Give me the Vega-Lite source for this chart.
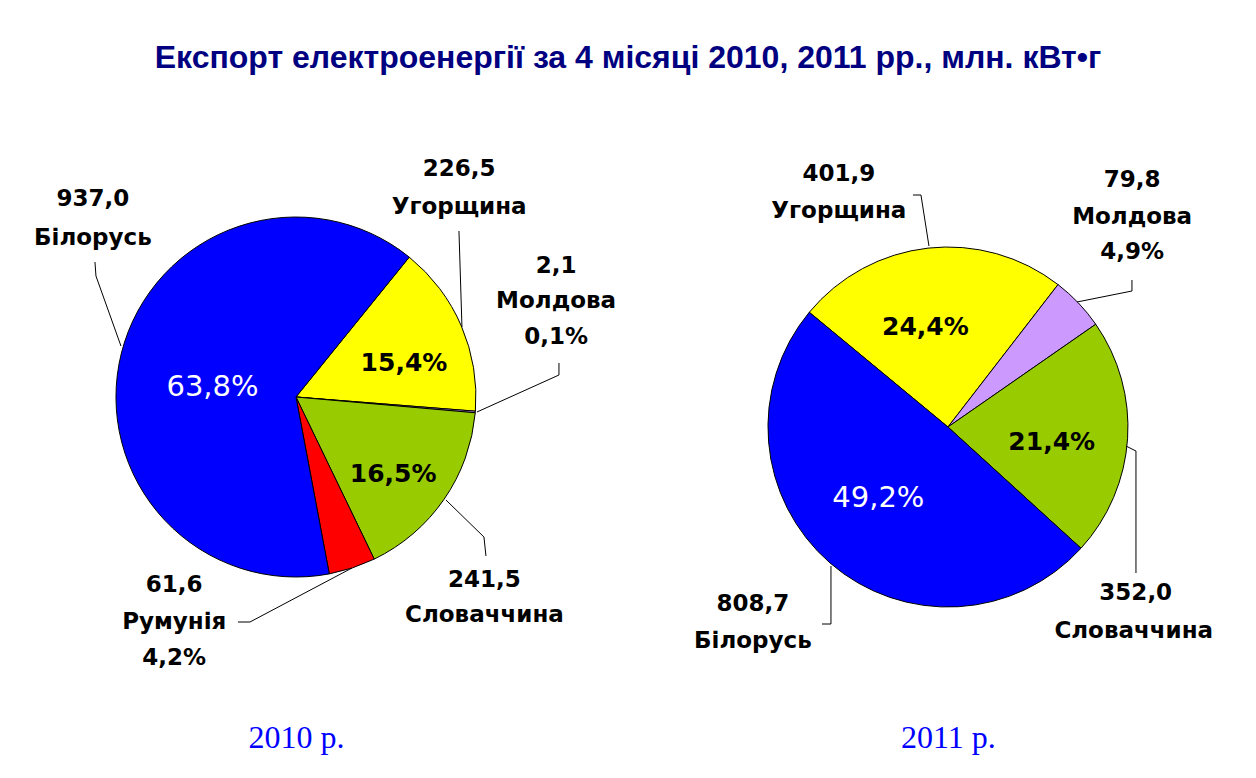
{
  "$schema": "https://vega.github.io/schema/vega-lite/v6.json",
  "width": 1256,
  "height": 778,
  "autosize": {"type": "fit", "contains": "padding"},
  "padding": {"top": 44, "bottom": 25, "left": 0, "right": 0},
  "background": "white",
  "title": {"text": "Експорт електроенергії за 4 місяці 2010, 2011 рр., млн. кВт•г", "font": "Liberation Sans", "fontSize": 32, "fontWeight": "bold", "color": "#000080", "anchor": "middle", "offset": 9},
  "data": {"values": [
    {"year": 2010, "country": "Угорщина", "value": 226.5, "pct": 0.154, "ord": 1},
    {"year": 2010, "country": "Молдова", "value": 2.1, "pct": 0.001, "ord": 2},
    {"year": 2010, "country": "Словаччина", "value": 241.5, "pct": 0.165, "ord": 3},
    {"year": 2010, "country": "Румунія", "value": 61.6, "pct": 0.042, "ord": 4},
    {"year": 2010, "country": "Білорусь", "value": 937.0, "pct": 0.638, "ord": 5},
    {"year": 2011, "country": "Угорщина", "value": 401.9, "pct": 0.244, "ord": 1},
    {"year": 2011, "country": "Молдова", "value": 79.8, "pct": 0.049, "ord": 2},
    {"year": 2011, "country": "Словаччина", "value": 352.0, "pct": 0.214, "ord": 3},
    {"year": 2011, "country": "Білорусь", "value": 808.7, "pct": 0.492, "ord": 4}
  ]},
  "encoding": {
    "x": {"field": "year", "type": "ordinal", "scale": {"type": "point", "padding": 0.4632, "align": 0.49},
          "axis": {"title": null, "domain": false, "ticks": false, "grid": false, "labelAngle": 0, "labelExpr": "datum.label + ' р.'", "labelFont": "Liberation Serif", "labelFontSize": 32, "labelColor": "#0000FF", "labelPadding": 6}},
    "y": {"field": "year", "type": "ordinal", "axis": null,
          "scale": {"type": "point", "domain": [2000, 2001, 2002, 2003, 2004, 2005, 2006, 2007, 2008, 2009, 2010, 2011, 2012, 2013, 2014, 2015, 2016, 2017, 2018, 2019, 2020], "padding": 0.5, "align": 0.367}}
  },
  "layer": [
    {
      "transform": [{"filter": "datum.year == 2010"}],
      "encoding": {
        "theta": {"field": "value", "type": "quantitative", "stack": true, "scale": {"range": [0.6807, 6.9639]}},
        "order": {"field": "ord", "type": "quantitative"},
        "detail": {"field": "country", "type": "nominal"}
      },
      "layer": [
        {"mark": {"type": "arc", "radius": 180, "stroke": "black", "strokeWidth": 1},
         "encoding": {"color": {"field": "country", "type": "nominal", "legend": null, "scale": {"domain": ["Угорщина", "Молдова", "Словаччина", "Румунія", "Білорусь"], "range": ["#FFFF00", "#CC99FF", "#99CC00", "#FF0000", "#0000FF"]}}}},
        {"mark": {"type": "text", "style": "pw", "color": "white", "radius": 83, "dx": -3, "dy": 10},
         "encoding": {"text": {"condition": {"test": "datum.country === 'Білорусь'", "field": "pct", "type": "quantitative", "format": ".1%"}, "value": ""}}},
        {"mark": {"type": "text", "style": "pin", "color": "black", "radius": 111, "dx": 6, "dy": 10},
         "encoding": {"text": {"condition": {"test": "datum.country === 'Угорщина'", "field": "pct", "type": "quantitative", "format": ".1%"}, "value": ""}}},
        {"mark": {"type": "text", "style": "pin", "color": "black", "radius": 123, "dx": -4, "dy": 7},
         "encoding": {"text": {"condition": {"test": "datum.country === 'Словаччина'", "field": "pct", "type": "quantitative", "format": ".1%"}, "value": ""}}},
        {"mark": {"type": "text", "style": "lab", "color": "black", "radius": 227, "dx": 17, "dy": -142},
         "encoding": {"text": {"condition": {"test": "datum.country === 'Білорусь'", "field": "value", "type": "quantitative", "format": ".1f"}, "value": ""}}},
        {"mark": {"type": "text", "style": "lab", "color": "black", "radius": 227, "dx": 17, "dy": -103},
         "encoding": {"text": {"condition": {"test": "datum.country === 'Білорусь'", "field": "country", "type": "nominal"}, "value": ""}}},
        {"mark": {"type": "text", "style": "lab", "color": "black", "radius": 232, "dx": -50, "dy": -136},
         "encoding": {"text": {"condition": {"test": "datum.country === 'Угорщина'", "field": "value", "type": "quantitative", "format": ".1f"}, "value": ""}}},
        {"mark": {"type": "text", "style": "lab", "color": "black", "radius": 232, "dx": -50, "dy": -98},
         "encoding": {"text": {"condition": {"test": "datum.country === 'Угорщина'", "field": "country", "type": "nominal"}, "value": ""}}},
        {"mark": {"type": "text", "style": "lab", "color": "black", "radius": 250, "dx": 11, "dy": -152},
         "encoding": {"text": {"condition": {"test": "datum.country === 'Молдова'", "field": "value", "type": "quantitative", "format": ".1f"}, "value": ""}}},
        {"mark": {"type": "text", "style": "lab", "color": "black", "radius": 250, "dx": 11, "dy": -117},
         "encoding": {"text": {"condition": {"test": "datum.country === 'Молдова'", "field": "country", "type": "nominal"}, "value": ""}}},
        {"mark": {"type": "text", "style": "lab", "color": "black", "radius": 250, "dx": 11, "dy": -81},
         "encoding": {"text": {"condition": {"test": "datum.country === 'Молдова'", "field": "pct", "type": "quantitative", "format": ".1%"}, "value": ""}}},
        {"mark": {"type": "text", "style": "lab", "color": "black", "radius": 240, "dx": -9, "dy": 47},
         "encoding": {"text": {"condition": {"test": "datum.country === 'Словаччина'", "field": "value", "type": "quantitative", "format": ".1f"}, "value": ""}}},
        {"mark": {"type": "text", "style": "lab", "color": "black", "radius": 240, "dx": -9, "dy": 82},
         "encoding": {"text": {"condition": {"test": "datum.country === 'Словаччина'", "field": "country", "type": "nominal"}, "value": ""}}},
        {"mark": {"type": "text", "style": "lab", "color": "black", "radius": 100, "dx": -153, "dy": 93},
         "encoding": {"text": {"condition": {"test": "datum.country === 'Румунія'", "field": "value", "type": "quantitative", "format": ".1f"}, "value": ""}}},
        {"mark": {"type": "text", "style": "lab", "color": "black", "radius": 100, "dx": -153, "dy": 130},
         "encoding": {"text": {"condition": {"test": "datum.country === 'Румунія'", "field": "country", "type": "nominal"}, "value": ""}}},
        {"mark": {"type": "text", "style": "lab", "color": "black", "radius": 100, "dx": -153, "dy": 166},
         "encoding": {"text": {"condition": {"test": "datum.country === 'Румунія'", "field": "pct", "type": "quantitative", "format": ".1%"}, "value": ""}}}
      ]
    },
    {
      "transform": [{"filter": "datum.year == 2011"}],
      "encoding": {
        "theta": {"field": "value", "type": "quantitative", "stack": true, "scale": {"range": [-0.8796, 5.4036]}},
        "order": {"field": "ord", "type": "quantitative"},
        "detail": {"field": "country", "type": "nominal"}
      },
      "layer": [
        {"mark": {"type": "arc", "radius": 180, "stroke": "black", "strokeWidth": 1},
         "encoding": {"color": {"field": "country", "type": "nominal", "legend": null}}},
        {"mark": {"type": "text", "style": "pin", "color": "black", "radius": 105, "dx": -11, "dy": 4},
         "encoding": {"text": {"condition": {"test": "datum.country === 'Угорщина'", "field": "pct", "type": "quantitative", "format": ".1%"}, "value": ""}}},
        {"mark": {"type": "text", "style": "pin", "color": "black", "radius": 109, "dx": -5, "dy": 8},
         "encoding": {"text": {"condition": {"test": "datum.country === 'Словаччина'", "field": "pct", "type": "quantitative", "format": ".1%"}, "value": ""}}},
        {"mark": {"type": "text", "style": "pw", "color": "white", "radius": 94, "dx": -8, "dy": 0},
         "encoding": {"text": {"condition": {"test": "datum.country === 'Білорусь'", "field": "pct", "type": "quantitative", "format": ".1%"}, "value": ""}}},
        {"mark": {"type": "text", "style": "lab", "color": "black", "radius": 245, "dx": -82, "dy": -10},
         "encoding": {"text": {"condition": {"test": "datum.country === 'Угорщина'", "field": "value", "type": "quantitative", "format": ".1f"}, "value": ""}}},
        {"mark": {"type": "text", "style": "lab", "color": "black", "radius": 245, "dx": -82, "dy": 27},
         "encoding": {"text": {"condition": {"test": "datum.country === 'Угорщина'", "field": "country", "type": "nominal"}, "value": ""}}},
        {"mark": {"type": "text", "style": "lab", "color": "black", "radius": 279, "dx": -18, "dy": -55},
         "encoding": {"text": {"condition": {"test": "datum.country === 'Молдова'", "field": "value", "type": "quantitative", "format": ".1f"}, "value": ""}}},
        {"mark": {"type": "text", "style": "lab", "color": "black", "radius": 279, "dx": -18, "dy": -18},
         "encoding": {"text": {"condition": {"test": "datum.country === 'Молдова'", "field": "country", "type": "nominal"}, "value": ""}}},
        {"mark": {"type": "text", "style": "lab", "color": "black", "radius": 279, "dx": -18, "dy": 17},
         "encoding": {"text": {"condition": {"test": "datum.country === 'Молдова'", "field": "pct", "type": "quantitative", "format": ".1%"}, "value": ""}}},
        {"mark": {"type": "text", "style": "lab", "color": "black", "radius": 100, "dx": 88, "dy": 159},
         "encoding": {"text": {"condition": {"test": "datum.country === 'Словаччина'", "field": "value", "type": "quantitative", "format": ".1f"}, "value": ""}}},
        {"mark": {"type": "text", "style": "lab", "color": "black", "radius": 100, "dx": 86, "dy": 197},
         "encoding": {"text": {"condition": {"test": "datum.country === 'Словаччина'", "field": "country", "type": "nominal"}, "value": ""}}},
        {"mark": {"type": "text", "style": "lab", "color": "black", "radius": 267, "dx": -20, "dy": -25},
         "encoding": {"text": {"condition": {"test": "datum.country === 'Білорусь'", "field": "value", "type": "quantitative", "format": ".1f"}, "value": ""}}},
        {"mark": {"type": "text", "style": "lab", "color": "black", "radius": 267, "dx": -20, "dy": 12},
         "encoding": {"text": {"condition": {"test": "datum.country === 'Білорусь'", "field": "country", "type": "nominal"}, "value": ""}}}
      ]
    },
    {"transform": [{"filter": "datum.year == 2010 && datum.country === 'Білорусь'"}], "mark": {"type": "rule", "style": "lead", "xOffset": -201, "yOffset": -135, "x2Offset": -200, "y2Offset": -121}, "encoding": {"x2": {"field": "year"}, "y2": {"field": "year"}}},
    {"transform": [{"filter": "datum.year == 2010 && datum.country === 'Білорусь'"}], "mark": {"type": "rule", "style": "lead", "xOffset": -200, "yOffset": -121, "x2Offset": -175, "y2Offset": -51}, "encoding": {"x2": {"field": "year"}, "y2": {"field": "year"}}},
    {"transform": [{"filter": "datum.year == 2010 && datum.country === 'Угорщина'"}], "mark": {"type": "rule", "style": "lead", "xOffset": 163, "yOffset": -166, "x2Offset": 166, "y2Offset": -70}, "encoding": {"x2": {"field": "year"}, "y2": {"field": "year"}}},
    {"transform": [{"filter": "datum.year == 2010 && datum.country === 'Молдова'"}], "mark": {"type": "rule", "style": "lead", "xOffset": 263, "yOffset": -34, "x2Offset": 263, "y2Offset": -22}, "encoding": {"x2": {"field": "year"}, "y2": {"field": "year"}}},
    {"transform": [{"filter": "datum.year == 2010 && datum.country === 'Молдова'"}], "mark": {"type": "rule", "style": "lead", "xOffset": 263, "yOffset": -22, "x2Offset": 181, "y2Offset": 15}, "encoding": {"x2": {"field": "year"}, "y2": {"field": "year"}}},
    {"transform": [{"filter": "datum.year == 2010 && datum.country === 'Словаччина'"}], "mark": {"type": "rule", "style": "lead", "xOffset": 190, "yOffset": 159, "x2Offset": 188, "y2Offset": 140}, "encoding": {"x2": {"field": "year"}, "y2": {"field": "year"}}},
    {"transform": [{"filter": "datum.year == 2010 && datum.country === 'Словаччина'"}], "mark": {"type": "rule", "style": "lead", "xOffset": 188, "yOffset": 140, "x2Offset": 150, "y2Offset": 103}, "encoding": {"x2": {"field": "year"}, "y2": {"field": "year"}}},
    {"transform": [{"filter": "datum.year == 2010 && datum.country === 'Румунія'"}], "mark": {"type": "rule", "style": "lead", "xOffset": -58, "yOffset": 225, "x2Offset": -46, "y2Offset": 225}, "encoding": {"x2": {"field": "year"}, "y2": {"field": "year"}}},
    {"transform": [{"filter": "datum.year == 2010 && datum.country === 'Румунія'"}], "mark": {"type": "rule", "style": "lead", "xOffset": -46, "yOffset": 225, "x2Offset": 56, "y2Offset": 171}, "encoding": {"x2": {"field": "year"}, "y2": {"field": "year"}}},
    {"transform": [{"filter": "datum.year == 2011 && datum.country === 'Угорщина'"}], "mark": {"type": "rule", "style": "lead", "xOffset": -35, "yOffset": -232, "x2Offset": -27, "y2Offset": -232}, "encoding": {"x2": {"field": "year"}, "y2": {"field": "year"}}},
    {"transform": [{"filter": "datum.year == 2011 && datum.country === 'Угорщина'"}], "mark": {"type": "rule", "style": "lead", "xOffset": -27, "yOffset": -232, "x2Offset": -19, "y2Offset": -181}, "encoding": {"x2": {"field": "year"}, "y2": {"field": "year"}}},
    {"transform": [{"filter": "datum.year == 2011 && datum.country === 'Молдова'"}], "mark": {"type": "rule", "style": "lead", "xOffset": 184, "yOffset": -147, "x2Offset": 184, "y2Offset": -136}, "encoding": {"x2": {"field": "year"}, "y2": {"field": "year"}}},
    {"transform": [{"filter": "datum.year == 2011 && datum.country === 'Молдова'"}], "mark": {"type": "rule", "style": "lead", "xOffset": 184, "yOffset": -136, "x2Offset": 129, "y2Offset": -125}, "encoding": {"x2": {"field": "year"}, "y2": {"field": "year"}}},
    {"transform": [{"filter": "datum.year == 2011 && datum.country === 'Словаччина'"}], "mark": {"type": "rule", "style": "lead", "xOffset": 188, "yOffset": 146, "x2Offset": 188, "y2Offset": 24}, "encoding": {"x2": {"field": "year"}, "y2": {"field": "year"}}},
    {"transform": [{"filter": "datum.year == 2011 && datum.country === 'Словаччина'"}], "mark": {"type": "rule", "style": "lead", "xOffset": 188, "yOffset": 24, "x2Offset": 178, "y2Offset": 19}, "encoding": {"x2": {"field": "year"}, "y2": {"field": "year"}}},
    {"transform": [{"filter": "datum.year == 2011 && datum.country === 'Білорусь'"}], "mark": {"type": "rule", "style": "lead", "xOffset": -117, "yOffset": 139, "x2Offset": -117, "y2Offset": 197}, "encoding": {"x2": {"field": "year"}, "y2": {"field": "year"}}},
    {"transform": [{"filter": "datum.year == 2011 && datum.country === 'Білорусь'"}], "mark": {"type": "rule", "style": "lead", "xOffset": -117, "yOffset": 197, "x2Offset": -126, "y2Offset": 197}, "encoding": {"x2": {"field": "year"}, "y2": {"field": "year"}}}
  ],
  "resolve": {"scale": {"theta": "independent"}},
  "config": {
    "view": {"stroke": null},
    "locale": {"number": {"decimal": ",", "thousands": " ", "grouping": [3], "currency": ["", ""]}},
    "style": {
      "lab": {"font": "DejaVu Sans", "fontSize": 23, "fontWeight": "bold"},
      "pin": {"font": "DejaVu Sans", "fontSize": 25, "fontWeight": "bold"},
      "pw": {"font": "DejaVu Sans", "fontSize": 29, "fontWeight": "normal"},
      "lead": {"stroke": "black", "strokeWidth": 1}
    }
  }
}
